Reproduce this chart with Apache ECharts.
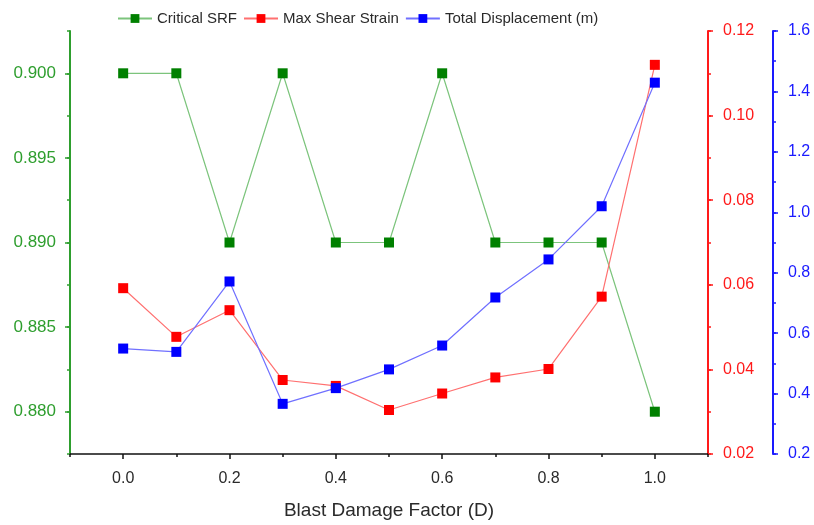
<!DOCTYPE html>
<html>
<head>
<meta charset="utf-8">
<script src="https://cdn.jsdelivr.net/npm/echarts@6/dist/echarts.min.js"></script>
<style>html,body{margin:0;padding:0;background:#fff;}#c{width:814px;height:525px;}</style>
</head>
<body>
<div id="c"></div>
<script>
const xValues = [0.0, 0.1, 0.2, 0.3, 0.4, 0.5, 0.6, 0.7, 0.8, 0.9, 1.0];
const criticalSRF = [0.900, 0.900, 0.890, 0.900, 0.890, 0.890, 0.900, 0.890, 0.890, 0.890, 0.880];
const maxShearStrain = [0.0592, 0.0477, 0.0540, 0.0375, 0.0361, 0.0304, 0.0343, 0.0381, 0.0401, 0.0572, 0.1120];
const totalDisplacement = [0.549, 0.538, 0.771, 0.366, 0.418, 0.480, 0.559, 0.718, 0.844, 1.020, 1.429];
const xTickLabels = [0.0, 0.2, 0.4, 0.6, 0.8, 1.0];
const srfTickLabels = [0.880, 0.885, 0.890, 0.895, 0.900];
const strainTickLabels = [0.02, 0.04, 0.06, 0.08, 0.10, 0.12];
const dispTickLabels = [0.2, 0.4, 0.6, 0.8, 1.0, 1.2, 1.4, 1.6];
const seriesNames = ['Critical SRF', 'Max Shear Strain', 'Total Displacement (m)'];

const FONT = 'Liberation Sans, Arial, sans-serif';
const GREEN_AX = '#2e9e2e', RED_AX = '#ff1a1a', BLUE_AX = '#1a1aff';

function pair(arr) { return xValues.map((x, i) => [x, arr[i]]); }

function minorY(min, max, interval, position, offset, color) {
  return {
    type: 'value', min, max, interval, position, offset,
    axisLine: { show: false, onZero: false }, splitLine: { show: false },
    axisLabel: { show: false },
    axisTick: { show: true, length: 3, lineStyle: { color, width: 1.5 } }
  };
}

const chart = echarts.init(document.getElementById('c'), null, { renderer: 'canvas' });
chart.setOption({
  animation: false,
  backgroundColor: '#fff',
  grid: { left: 70, right: 106, top: 31, bottom: 66, containLabel: false },
  legend: {
    top: 6, left: 112, itemGap: 6, itemWidth: 34, itemHeight: 11,
    textStyle: { fontFamily: FONT, fontSize: 15, color: '#2a2a2a' },
    data: seriesNames
  },
  xAxis: [
    {
      type: 'value', min: -0.1, max: 1.1, interval: 0.1,
      name: 'Blast Damage Factor (D)', nameLocation: 'middle', nameGap: 47,
      nameTextStyle: { fontFamily: FONT, fontSize: 19, color: '#2a2a2a' },
      axisLine: { show: true, onZero: false, lineStyle: { color: '#111', width: 1.5 } },
      axisTick: { show: true, length: 5, customValues: xTickLabels, lineStyle: { color: '#111', width: 1.5 } },
      axisLabel: { customValues: xTickLabels, margin: 17, fontFamily: FONT, fontSize: 16, color: '#2a2a2a', formatter: v => v.toFixed(1) },
      splitLine: { show: false }
    },
    {
      type: 'value', min: -0.1, max: 1.1, interval: 0.1, position: 'bottom',
      axisLine: { show: false, onZero: false }, axisLabel: { show: false }, splitLine: { show: false },
      axisTick: { show: true, length: 3, lineStyle: { color: '#111', width: 1.5 } }
    }
  ],
  yAxis: [
    {
      type: 'value', min: 0.8775, max: 0.9025, interval: 0.0025, position: 'left',
      axisLine: { show: true, onZero: false, lineStyle: { color: GREEN_AX, width: 2 } },
      axisTick: { show: true, length: 5, customValues: srfTickLabels, lineStyle: { color: GREEN_AX, width: 1.5 } },
      axisLabel: { customValues: srfTickLabels, margin: 14, fontFamily: FONT, fontSize: 17, color: GREEN_AX, formatter: v => v.toFixed(3) },
      splitLine: { show: false }
    },
    {
      type: 'value', min: 0.02, max: 0.12, interval: 0.01, position: 'right', offset: 0,
      axisLine: { show: true, onZero: false, lineStyle: { color: RED_AX, width: 2 } },
      axisTick: { show: true, length: 5, customValues: strainTickLabels, lineStyle: { color: RED_AX, width: 1.5 } },
      axisLabel: { customValues: strainTickLabels, margin: 15, fontFamily: FONT, fontSize: 16, color: RED_AX, formatter: v => v.toFixed(2) },
      splitLine: { show: false }
    },
    {
      type: 'value', min: 0.2, max: 1.6, interval: 0.1, position: 'right', offset: 65,
      axisLine: { show: true, onZero: false, lineStyle: { color: BLUE_AX, width: 2 } },
      axisTick: { show: true, length: 5, customValues: dispTickLabels, lineStyle: { color: BLUE_AX, width: 1.5 } },
      axisLabel: { customValues: dispTickLabels, margin: 15, fontFamily: FONT, fontSize: 16, color: BLUE_AX, formatter: v => v.toFixed(1) },
      splitLine: { show: false }
    },
    minorY(0.8775, 0.9025, 0.0025, 'left', 0, GREEN_AX),
    minorY(0.02, 0.12, 0.01, 'right', 0, RED_AX),
    minorY(0.2, 1.6, 0.1, 'right', 65, BLUE_AX)
  ],
  series: [
    {
      name: seriesNames[0], type: 'line', xAxisIndex: 0, yAxisIndex: 0,
      data: pair(criticalSRF), symbol: 'rect', symbolSize: 10,
      itemStyle: { color: '#008000' },
      lineStyle: { color: '#7cc47c', width: 1.2 }
    },
    {
      name: seriesNames[1], type: 'line', xAxisIndex: 0, yAxisIndex: 1,
      data: pair(maxShearStrain), symbol: 'rect', symbolSize: 10,
      itemStyle: { color: '#ff0000' },
      lineStyle: { color: '#ff7070', width: 1.2 }
    },
    {
      name: seriesNames[2], type: 'line', xAxisIndex: 0, yAxisIndex: 2,
      data: pair(totalDisplacement), symbol: 'rect', symbolSize: 10,
      itemStyle: { color: '#0000ff' },
      lineStyle: { color: '#7070ff', width: 1.2 }
    }
  ]
});
</script>
</body>
</html>
